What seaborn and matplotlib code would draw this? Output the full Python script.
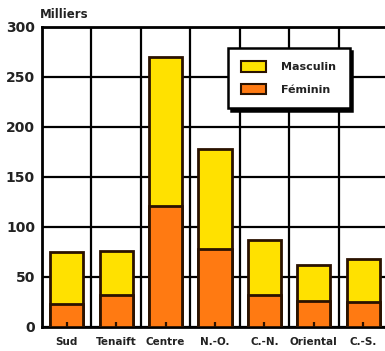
import numpy as np
import pandas as pd
import matplotlib
matplotlib.use("Agg")
import matplotlib.pyplot as plt
import seaborn as sns
from matplotlib.patches import Patch

# data (thousands)
regions = ["Sud", "Tenaift", "Centre", "N.-O.", "C.-N.", "Oriental", "C.-S."]
feminin = [23, 32, 121, 78, 32, 26, 25]
masculin = [52, 44, 149, 100, 55, 36, 43]
yticks = [0, 50, 100, 150, 200, 250, 300]

YELLOW = "#ffe100"
ORANGE = "#ff7a12"
EDGE = "#2a1200"

df = pd.DataFrame({"region": regions, "Féminin": feminin, "Masculin": masculin})
df["total"] = df["Féminin"] + df["Masculin"]

sns.set_style("white")
plt.rcParams["font.family"] = ["DejaVu Sans"]

fig = plt.figure(figsize=(3.85, 3.51), dpi=100)
ax = fig.add_axes([42 / 385, 1 - 327 / 351, 346 / 385, 300 / 351])

# stacked: total in yellow, female part drawn over it in orange
sns.barplot(data=df, x="region", y="total", color=YELLOW, saturation=1,
            width=0.67, edgecolor=EDGE, linewidth=2, ax=ax, zorder=3)
sns.barplot(data=df, x="region", y="Féminin", color=ORANGE, saturation=1,
            width=0.67, edgecolor=EDGE, linewidth=2, ax=ax, zorder=4)

# little tick marks sitting inside the bar bottoms
ax.vlines(np.arange(len(regions)), 0, 5, color=EDGE, linewidth=1.6, zorder=5)

ax.set_xlim(-0.5, 6.5)
ax.set_ylim(0, 300)
ax.set_yticks(yticks)
ax.set_xticks(np.arange(-0.5, 7, 1), minor=True)
ax.grid(True, which="major", axis="y", color="black", linewidth=1.6, zorder=1)
ax.grid(True, which="minor", axis="x", color="black", linewidth=1.6, zorder=1)
ax.set_axisbelow(True)

for side in ["left", "bottom", "top"]:
    ax.spines[side].set_visible(True)
    ax.spines[side].set_color("black")
    ax.spines[side].set_linewidth(2)
ax.spines["right"].set_visible(False)

ax.tick_params(axis="y", which="major", direction="out", length=2, width=1.5,
               labelsize=10, pad=3, labelcolor="#222222")
ax.tick_params(axis="x", which="major", length=0, labelsize=7.5, pad=7,
               labelcolor="#222222")
ax.tick_params(axis="x", which="minor", length=0)
for lab in ax.get_yticklabels() + ax.get_xticklabels():
    lab.set_fontweight("bold")
ax.set_xlabel("")
ax.set_ylabel("")

fig.text(40 / 385, 1 - 14 / 351, "Milliers", fontsize=8.5, fontweight="bold",
         va="center", ha="left", color="#222222")

handles = [Patch(facecolor=YELLOW, edgecolor=EDGE, linewidth=1.5, label="Masculin"),
           Patch(facecolor=ORANGE, edgecolor=EDGE, linewidth=1.5, label="Féminin")]
leg = fig.legend(handles=handles, loc="upper left",
                 bbox_to_anchor=(228 / 385, 1 - 48 / 351),
                 frameon=True, fancybox=False,
                 shadow={"color": "black", "alpha": 1},
                 edgecolor="black", framealpha=1,
                 prop={"size": 8, "weight": "bold"},
                 handlelength=2.2, handleheight=1.1, labelspacing=1.0,
                 borderpad=1.2, handletextpad=1.4, borderaxespad=0)
leg.get_frame().set_linewidth(1.8)
for t in leg.get_texts():
    t.set_color("#222222")
leg.set_zorder(10)

fig.savefig("out.png", dpi=100)
